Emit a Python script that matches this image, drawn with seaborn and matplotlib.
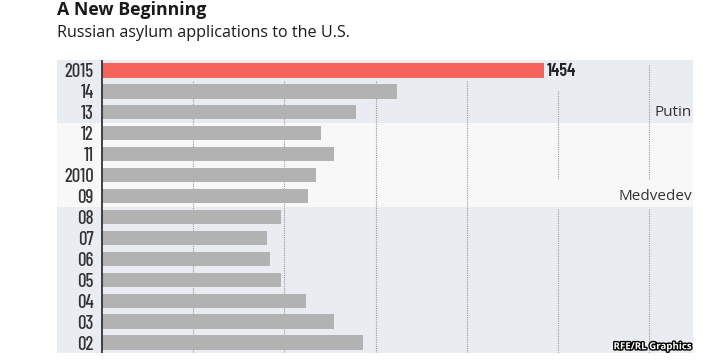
import pandas as pd
import matplotlib
import matplotlib.pyplot as plt
import matplotlib.patheffects as pe
import seaborn as sns

matplotlib.use("Agg")

# Russian asylum applications to the U.S.
years = ["2015", "14", "13", "12", "11", "2010", "09",
         "08", "07", "06", "05", "04", "03", "02"]
applications = [1454, 971, 834, 719, 762, 703, 677,
                589, 542, 554, 589, 670, 762, 860]
grid_values = [300, 600, 900, 1200, 1500, 1800]
eras = ["Putin", "Medvedev"]

df = pd.DataFrame({"year": years, "applications": applications})

sns.set_style("white")
plt.rcParams["font.family"] = ["Open Sans", "DejaVu Sans"]
narrow = ["Barlow Condensed", "Liberation Sans", "DejaVu Sans"]

red = "#f4645b"
grey = "#b2b2b2"
colors = [red] + [grey] * (len(years) - 1)

fig = plt.figure(figsize=(7.13, 3.61), dpi=100)
ax = fig.add_axes([57 / 713, 1 - 353 / 361, 636 / 713, 293 / 361])

# background bands: Putin / Medvedev / Putin
ax.axhspan(-0.5, 2.5, color="#e9ecf0", zorder=0, lw=0)
ax.axhspan(2.5, 6.5, color="#f8f8f8", zorder=0, lw=0)
ax.axhspan(6.5, 13.5, color="#e9ecf0", zorder=0, lw=0)

# dotted gridlines
grid_kw = dict(colors="#9a9a9a", linestyles=(0, (1, 1)), lw=0.8, zorder=1)
for g in grid_values[:4]:
    ax.vlines(g, 0.5, 13.5, **grid_kw)
ax.vlines(grid_values[4], 1.0, 5.2, **grid_kw)
ax.vlines(grid_values[4], 6.6, 13.5, **grid_kw)
ax.vlines(grid_values[5], -0.25, 5.2, **grid_kw)
ax.vlines(grid_values[5], 6.6, 13.5, **grid_kw)

sns.barplot(data=df, x="applications", y="year", hue="year", palette=colors,
            order=years, orient="h", width=0.68, legend=False, ax=ax, zorder=2,
            linewidth=0, saturation=1)

ax.axvline(0, color="#333333", lw=1.3, zorder=3)

ax.set_xlim(-148, 1944)
ax.set_ylim(13.5, -0.5)
ax.set_xlabel("")
ax.set_ylabel("")
ax.set_xticks([])
for s in ax.spines.values():
    s.set_visible(False)

# labels sit inside the axes, right-aligned just left of the axis line
ax.tick_params(axis="y", length=0, pad=-26.5)
for lab in ax.get_yticklabels():
    lab.set_fontfamily(narrow)
    lab.set_fontsize(13.5)
    lab.set_fontweight(500)
    lab.set_color("#333333")
    lab.set_horizontalalignment("right")

ax.text(applications[0] + 8, 0.05, str(applications[0]), va="center", ha="left",
        fontsize=13, fontweight=600, color="#222222", family=narrow, zorder=4)

ax.text(1940, 2, eras[0], ha="right", va="center", fontsize=11, color="#333333")
ax.text(1940, 6, eras[1], ha="right", va="center", fontsize=11, color="#333333")

ax.text(1940, 13.2, "RFE/RL Graphics", ha="right", va="center", fontsize=7,
        fontweight="bold", color="white",
        path_effects=[pe.withStroke(linewidth=2, foreground="black")])

fig.text(57 / 713, 1 - 10 / 361, "A New Beginning", fontsize=12.8,
         fontweight="bold", color="#1a1a1a", va="center", ha="left")
fig.text(57 / 713, 1 - 33 / 361, "Russian asylum applications to the U.S.",
         fontsize=11.6, color="#1a1a1a", va="center", ha="left")

fig.savefig("out.png", dpi=100)
